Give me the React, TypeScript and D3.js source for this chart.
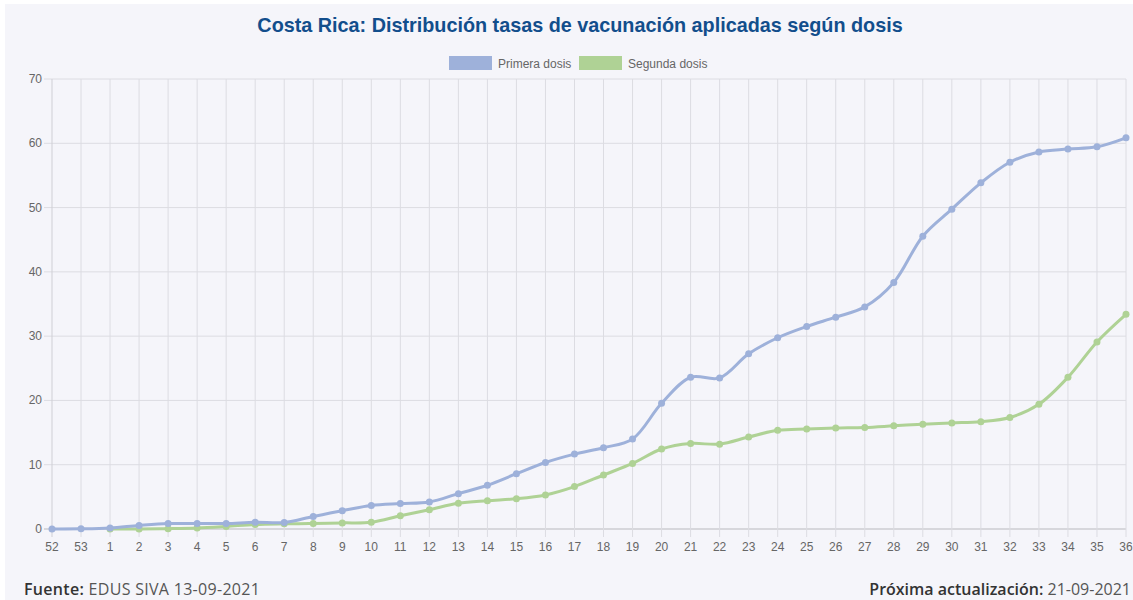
import React, { useEffect, useRef } from "react";
import * as d3 from "d3";

// semanas epidemiológicas
const weeks = ["52", "53", "1", "2", "3", "4", "5", "6", "7", "8", "9", "10", "11", "12", "13", "14", "15", "16", "17", "18", "19", "20", "21", "22", "23", "24", "25", "26", "27", "28", "29", "30", "31", "32", "33", "34", "35", "36"];

const primeraDosis = [0, 0.02, 0.15, 0.55, 0.85, 0.85, 0.85, 1.05, 1.0, 1.95, 2.85, 3.65, 3.95, 4.2, 5.5, 6.8, 8.6, 10.35, 11.65, 12.65, 14.0, 19.55, 23.6, 23.5, 27.25, 29.75, 31.5, 32.95, 34.55, 38.35, 45.55, 49.75, 53.85, 57.05, 58.65, 59.1, 59.45, 60.85];

// la segunda dosis empieza en la semana 1
const segundaDosis = [null, null, 0, 0.0, 0.05, 0.15, 0.4, 0.7, 0.8, 0.85, 0.95, 1.05, 2.05, 3.0, 4.0, 4.4, 4.7, 5.3, 6.6, 8.4, 10.2, 12.45, 13.3, 13.2, 14.3, 15.35, 15.55, 15.7, 15.8, 16.05, 16.3, 16.5, 16.7, 17.35, 19.4, 23.6, 29.1, 33.4];

const yTicks = [0, 10, 20, 30, 40, 50, 60, 70];

const seriesNames = ["Primera dosis", "Segunda dosis"];
const seriesColors = ["#9eb1da", "#afd295"];

const App = () => {
  const chartRef = useRef<HTMLDivElement>(null);

  useEffect(() => {
    if (!chartRef.current) return;

    const width = 1133;
    const height = 600;
    const margin = { top: 79, right: 7, bottom: 71, left: 52 };
    const innerW = width - margin.left - margin.right;
    const innerH = height - margin.top - margin.bottom;

    d3.select(chartRef.current).selectAll("*").remove();

    const svg = d3
      .select(chartRef.current)
      .append("svg")
      .attr("width", width)
      .attr("height", height)
      .style("position", "absolute")
      .style("left", "0px")
      .style("top", "0px");

    // fondo
    svg.append("rect").attr("width", width).attr("height", height).attr("fill", "#ffffff");
    svg
      .append("rect")
      .attr("x", 5)
      .attr("y", 4)
      .attr("width", width - 5)
      .attr("height", height - 4)
      .attr("fill", "#f5f5fa");

    // título
    svg
      .append("text")
      .attr("x", 580)
      .attr("y", 32)
      .attr("text-anchor", "middle")
      .style("font-family", "'Liberation Sans', Arial, sans-serif")
      .style("font-weight", "bold")
      .style("font-size", "19.8px")
      .style("fill", "#124e8c")
      .text("Costa Rica: Distribución tasas de vacunación aplicadas según dosis");

    // leyenda
    const legendX = [449, 579];
    seriesNames.forEach((name, i) => {
      const lg = svg.append("g").attr("transform", `translate(${legendX[i]}, 56)`);
      lg.append("rect")
        .attr("width", 43)
        .attr("height", 14)
        .attr("fill", seriesColors[i]);
      lg.append("text")
        .attr("x", 49)
        .attr("y", 11.5)
        .style("font-family", "'Liberation Sans', Arial, sans-serif")
        .style("font-size", "12px")
        .style("fill", "#666")
        .text(name);
    });

    const g = svg.append("g").attr("transform", `translate(${margin.left}, ${margin.top})`);

    const x = d3.scalePoint().domain(weeks).range([0, innerW]);
    const y = d3.scaleLinear().domain([0, 70]).range([innerH, 0]);

    // rejilla horizontal
    g.selectAll(".hgrid")
      .data(yTicks)
      .enter()
      .append("line")
      .attr("x1", -8)
      .attr("x2", innerW)
      .attr("y1", (d) => y(d))
      .attr("y2", (d) => y(d))
      .attr("stroke", (d) => (d === 0 ? "#b9b9be" : "#dcdce2"))
      .attr("stroke-width", 1);

    // rejilla vertical
    g.selectAll(".vgrid")
      .data(weeks)
      .enter()
      .append("line")
      .attr("x1", (d) => x(d))
      .attr("x2", (d) => x(d))
      .attr("y1", 0)
      .attr("y2", innerH + 8)
      .attr("stroke", (d, i) => (i === 0 ? "#cfcfd5" : "#dcdce2"))
      .attr("stroke-width", 1);

    // etiquetas eje y
    g.selectAll(".ylab")
      .data(yTicks)
      .enter()
      .append("text")
      .attr("x", -10)
      .attr("y", (d) => y(d) + 4)
      .attr("text-anchor", "end")
      .style("font-family", "'Liberation Sans', Arial, sans-serif")
      .style("font-size", "12px")
      .style("fill", "#666")
      .text((d) => d);

    // etiquetas eje x
    g.selectAll(".xlab")
      .data(weeks)
      .enter()
      .append("text")
      .attr("x", (d) => x(d))
      .attr("y", innerH + 22)
      .attr("text-anchor", "middle")
      .style("font-family", "'Liberation Sans', Arial, sans-serif")
      .style("font-size", "12px")
      .style("fill", "#666")
      .text((d) => d);

    // líneas (la segunda se dibuja debajo)
    const series = [primeraDosis, segundaDosis];
    const line = d3
      .line<any>()
      .x((d) => x(d.w))
      .y((d) => y(d.v))
      .curve(d3.curveCatmullRom.alpha(0.5));

    [1, 0].forEach((si) => {
      const pts = series[si]
        .map((v, i) => ({ w: weeks[i], v }))
        .filter((d) => d.v !== null);

      g.append("path")
        .datum(pts)
        .attr("d", line)
        .attr("fill", "none")
        .attr("stroke", seriesColors[si])
        .attr("stroke-width", 3);

      g.selectAll(`.pt${si}`)
        .data(pts)
        .enter()
        .append("circle")
        .attr("cx", (d) => x(d.w))
        .attr("cy", (d) => y(d.v))
        .attr("r", 3.5)
        .attr("fill", seriesColors[si]);
    });

    // pie de página
    const foot = svg
      .append("text")
      .attr("x", 24)
      .attr("y", 595)
      .style("font-family", "'Open Sans', sans-serif")
      .style("font-size", "16px")
      .style("letter-spacing", "0.3px");
    foot.append("tspan").style("fill", "#333").style("font-weight", "600").text("Fuente: ");
    foot.append("tspan").style("fill", "#555").text("EDUS SIVA 13-09-2021");

    const foot2 = svg
      .append("text")
      .attr("x", 1131)
      .attr("y", 595)
      .attr("text-anchor", "end")
      .style("font-family", "'Open Sans', sans-serif")
      .style("font-size", "16px");
    foot2.append("tspan").style("fill", "#333").style("font-weight", "600").text("Próxima actualización: ");
    foot2.append("tspan").style("fill", "#555").text("21-09-2021");
  }, []);

  return <div ref={chartRef}></div>;
};

export default App;
